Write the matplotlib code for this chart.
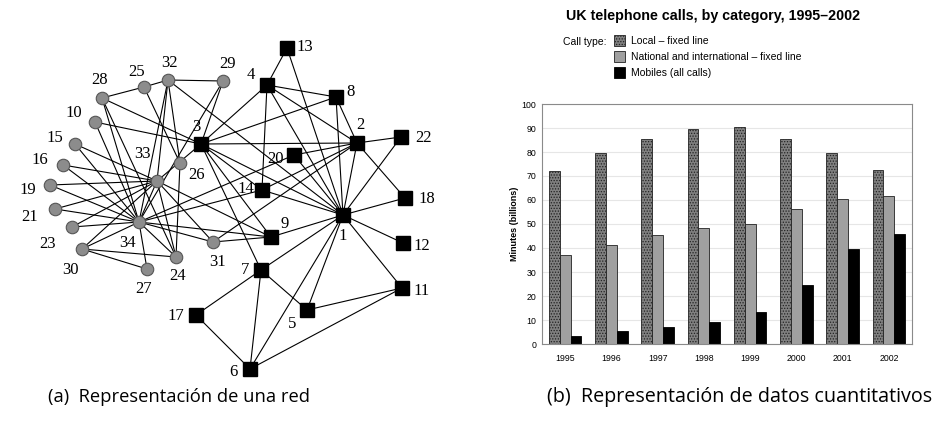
import numpy as np
import matplotlib
matplotlib.use("Agg")
from matplotlib import pyplot as plt

# --- (a) karate club network: node layout and edge list ---
node_ids = list(range(1, 35))
node_x = [343, 357, 201, 267, 307, 250, 261, 336, 271, 95, 402, 403, 287, 262, 75, 63, 196,
          405, 50, 294, 55, 401, 72, 176, 144, 180, 147, 102, 223, 82, 213, 168, 157, 139]
node_y = [215, 143, 144, 85, 310, 369, 270, 97, 237, 122, 288, 243, 48, 190, 144, 165, 315,
          198, 185, 155, 209, 137, 227, 257, 87, 163, 269, 98, 81, 249, 242, 80, 181, 222]
# faction of each member (0 = instructor side, 1 = administrator side)
faction = [0, 0, 0, 0, 0, 0, 0, 0, 0, 1, 0, 0, 0, 0, 1, 1, 0,
           0, 1, 0, 1, 0, 1, 1, 1, 1, 1, 1, 1, 1, 1, 1, 1, 1]
# label offsets (dx, dy) relative to each node
label_dx = [0, 3, -5, -16, -15, -17, -16, 15, 14, -21, 20, 19, 18, -16, -20, -23, -20,
            22, -22, -18, -25, 22, -24, 2, -7, 17, -3, -2, 5, -12, 4, 1, -15, -11]
label_dy = [21, -18, -17, -10, 14, 3, 0, -5, -13, -9, 3, 3, -1, -1, -6, -5, 1,
            1, 5, 4, 8, 1, 17, 19, -15, 12, 20, -18, -17, 21, 20, -17, -27, 21]
edges = [(1, 2), (1, 3), (1, 4), (1, 5), (1, 6), (1, 7), (1, 8), (1, 9), (1, 11), (1, 12),
         (1, 13), (1, 14), (1, 18), (1, 20), (1, 22), (1, 32),
         (2, 3), (2, 4), (2, 8), (2, 14), (2, 18), (2, 20), (2, 22), (2, 31),
         (3, 4), (3, 7), (3, 8), (3, 9), (3, 10), (3, 14), (3, 28), (3, 29), (3, 33),
         (4, 8), (4, 13), (4, 14), (5, 7), (5, 11), (6, 7), (6, 11), (6, 17), (7, 17),
         (9, 31), (9, 33), (9, 34), (10, 34), (14, 34), (15, 33), (15, 34),
         (16, 33), (16, 34), (19, 33), (19, 34), (20, 34), (21, 33), (21, 34),
         (23, 33), (23, 34), (24, 26), (24, 28), (24, 30), (24, 33), (24, 34),
         (25, 26), (25, 28), (25, 32), (26, 32), (27, 30), (27, 34), (28, 34),
         (29, 32), (29, 34), (30, 33), (30, 34), (31, 33), (31, 34), (32, 33),
         (32, 34), (33, 34)]

# --- (b) UK telephone calls ---
years = ["1995", "1996", "1997", "1998", "1999", "2000", "2001", "2002"]
local_fixed = [72.1, 79.5, 85.3, 89.6, 90.6, 85.6, 79.7, 72.5]
national_fixed = [37.2, 41.2, 45.5, 48.3, 50.2, 56.4, 60.5, 61.7]
mobiles = [3.2, 5.3, 7.2, 9.2, 13.5, 24.4, 39.5, 45.8]
series_names = ["Local \u2013 fixed line", "National and international \u2013 fixed line",
                "Mobiles (all calls)"]

fig = plt.figure(figsize=(9.43, 4.21), dpi=100)

# network panel
ax = fig.add_axes([0, 0, 0.5, 1])
ax.set_xlim(0, 471.5)
ax.set_ylim(421, 0)
ax.axis("off")
for a, b in edges:
    ax.plot([node_x[a - 1], node_x[b - 1]], [node_y[a - 1], node_y[b - 1]],
            color="black", lw=0.8, zorder=1)
for i, n in enumerate(node_ids):
    if faction[i] == 0:
        ax.plot(node_x[i], node_y[i], marker="s", ms=10, color="black", zorder=3)
    else:
        ax.plot(node_x[i], node_y[i], marker="o", ms=9, mfc="#8c8c8c", mec="#555555",
                mew=0.8, zorder=3)
    ax.text(node_x[i] + label_dx[i], node_y[i] + label_dy[i], str(n),
            family="Liberation Serif", fontsize=12, ha="center", va="center")

# bar chart panel
bx = fig.add_axes([542 / 943, 1 - 344 / 421, 370 / 943, 240 / 421])
x = np.arange(len(years))
w = 0.235
plt.rcParams["hatch.color"] = "#3c3c3c"
plt.rcParams["hatch.linewidth"] = 0.6
b1 = bx.bar(x - w, local_fixed, w, color="#808080", edgecolor="#222222", lw=0.6,
            hatch="......", label=series_names[0], zorder=2)
b2 = bx.bar(x, national_fixed, w, color="#a0a0a0", edgecolor="#222222", lw=0.6,
            label=series_names[1], zorder=2)
b3 = bx.bar(x + w, mobiles, w, color="black", edgecolor="black", lw=0.6,
            label=series_names[2], zorder=2)
bx.set_xlim(-0.5, 7.5)
bx.set_ylim(0, 100)
bx.set_yticks(range(0, 101, 10))
bx.set_xticks(x)
bx.set_xticklabels(years)
bx.tick_params(labelsize=6.3, length=0)
bx.tick_params(axis="x", pad=7)
bx.tick_params(axis="y", pad=4)
for lab in bx.get_xticklabels() + bx.get_yticklabels():
    lab.set_family("Liberation Sans")
bx.yaxis.grid(True, color="#e6e6e6", lw=0.8, zorder=0)
bx.set_axisbelow(True)
for s in bx.spines.values():
    s.set_color("#8a8a8a")
    s.set_linewidth(0.8)
bx.set_ylabel("Minutes (billions)", family="Liberation Sans", fontsize=6.5,
              fontweight="bold", labelpad=2)

fig.text(713 / 943, 1 - 16 / 421, "UK telephone calls, by category, 1995\u20132002",
         family="Liberation Sans", fontweight="bold", fontsize=10.3, ha="center", va="center")
fig.text(563 / 943, 1 - 42 / 421, "Call type:", family="Liberation Sans", fontsize=7.5,
         va="center")
bx.legend(handles=[b1, b2, b3], loc="upper left",
          bbox_to_anchor=(614 / 943, 1 - 35 / 421), bbox_transform=fig.transFigure,
          frameon=False, prop={"family": "Liberation Sans", "size": 7.5},
          handlelength=1.1, handleheight=1.3, handletextpad=0.55, labelspacing=0.45,
          borderpad=0, borderaxespad=0)

# captions
cap_font = ["Open Sans", "DejaVu Sans"]
fig.text(48 / 943, 1 - 397 / 421, "(a)  Representaci\u00f3n de una red", family=cap_font,
         fontsize=13.2, va="center")
fig.text(547 / 943, 1 - 397 / 421, "(b)  Representaci\u00f3n de datos cuantitativos",
         family=cap_font, fontsize=14.2, va="center")

fig.savefig("out.png", dpi=100)
